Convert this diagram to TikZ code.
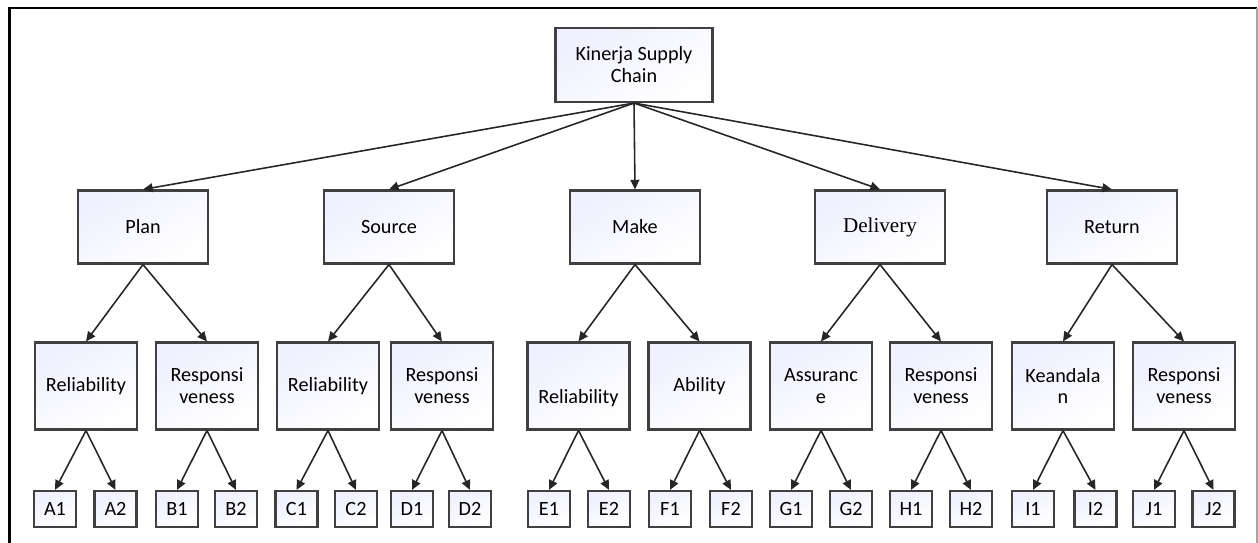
\documentclass[tikz,border=0pt]{standalone}
\usepackage{fontspec}
\setmainfont{Carlito}
\newfontfamily\serifstage{Liberation Serif}
\usetikzlibrary{arrows.meta}

\tikzset{
  box/.style={draw=black!75, line width=1.2pt, top color=blue!6!white, bottom color=white,
    shading angle=30, align=center, inner sep=1pt, font=\fontsize{11.5}{12.5}\selectfont},
  rootbox/.style={box, minimum width=3.14cm, minimum height=1.48cm},
  stagebox/.style={box, minimum width=2.6cm, minimum height=1.46cm},
  metricbox/.style={box, minimum width=2.04cm, minimum height=1.74cm},
  leafbox/.style={box, minimum width=0.84cm, minimum height=0.72cm},
  link/.style={-{Triangle[length=5.5pt,width=5pt]}, line width=0.9pt, black!85},
}

\begin{document}
\begin{tikzpicture}[x=0.02cm, y=-0.02cm]
  \useasboundingbox (0,0) rectangle (1258,543);
  % frame
  \draw[line width=1.4pt] (9.5,543) -- (9.5,8) -- (1257,8);
  \draw[gray!70, line width=0.6pt] (1257,8) -- (1257,543);

  % top
  \node[rootbox] (kinerja) at (634,65) {Kinerja Supply\\Chain};

  % stages
  \node[stagebox] (plan) at (143,227) {Plan};
  \node[stagebox] (source) at (389,227) {Source};
  \node[stagebox] (make) at (635,227) {Make};
  \node[stagebox, font=\serifstage\fontsize{12}{13}\selectfont] (delivery) at (880,227) {Delivery};
  \node[stagebox] (return) at (1112,227) {Return};

  % metrics
  \node[metricbox] (a) at (86,386) {Reliability};
  \node[metricbox] (b) at (207,386) {Responsi\\veness};
  \node[metricbox] (c) at (328,386) {Reliability};
  \node[metricbox] (d) at (442,386) {Responsi\\veness};
  \node[metricbox] (e) at (578.5,386) {\strut\\Reliability};
  \node[metricbox] (f) at (699.5,386) {Ability};
  \node[metricbox] (g) at (821,386) {Assuranc\\e};
  \node[metricbox] (h) at (941,386) {Responsi\\veness};
  \node[metricbox] (i) at (1063,386) {Keandala\\n};
  \node[metricbox] (j) at (1184,386) {Responsi\\veness};

  % indicators
  \foreach \n/\t/\x in {a1/A1/55, a2/A2/115.5, b1/B1/177, b2/B2/236,
      c1/C1/296.5, c2/C2/356, d1/D1/412, d2/D2/470,
      e1/E1/549, e2/E2/609, f1/F1/670, f2/F2/731,
      g1/G1/791, g2/G2/851, h1/H1/911, h2/H2/971,
      i1/I1/1033, i2/I2/1095.5, j1/J1/1154, j2/J2/1213.5} {
    \node[leafbox] (\n) at (\x,509) {\t};
  }

  \foreach \s in {plan,source,make,delivery,return} {
    \draw[link] (kinerja.south) -- (\s.north);
  }
  \foreach \p/\c in {plan/a, plan/b, source/c, source/d, make/e, make/f,
      delivery/g, delivery/h, return/i, return/j} {
    \draw[link] (\p.south) -- (\c.north);
    \draw[link] (\c.south) -- (\c1.north);
    \draw[link] (\c.south) -- (\c2.north);
  }
\end{tikzpicture}
\end{document}
